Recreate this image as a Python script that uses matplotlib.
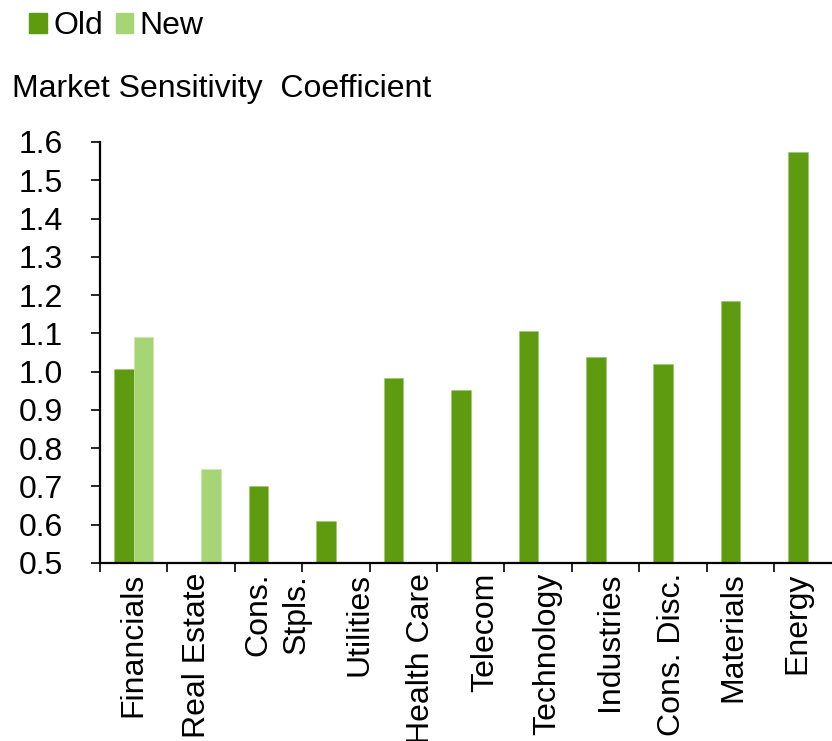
import numpy as np
import matplotlib
matplotlib.use("Agg")
import matplotlib.pyplot as plt
from matplotlib.patches import Patch

# data
sectors = ["Financials", "Real Estate", "Cons.\nStpls.", "Utilities", "Health Care",
           "Telecom", "Technology", "Industries", "Cons. Disc.", "Materials", "Energy"]
old = [1.007, np.nan, 0.70, 0.61, 0.984, 0.952, 1.106, 1.039, 1.02, 1.184, 1.574]
new = [1.09, 0.746, np.nan, np.nan, np.nan, np.nan, np.nan, np.nan, np.nan, np.nan, np.nan]
yticks = [0.5, 0.6, 0.7, 0.8, 0.9, 1.0, 1.1, 1.2, 1.3, 1.4, 1.5, 1.6]

old_color = "#5E9B10"
new_color = "#A6D575"

plt.rcParams["font.family"] = ["Liberation Sans", "DejaVu Sans"]
plt.rcParams["font.size"] = 23

fig = plt.figure(figsize=(8.32, 7.41), dpi=100)
# axes runs past the right edge of the figure, like the original
ax = fig.add_axes([100 / 832, 1 - 563 / 741, 741.4 / 832, (563 - 142) / 741])

x = np.arange(len(sectors))
w = 0.29
ax.bar(x - w / 2, old, w, color=old_color, edgecolor="#9CC76A", linewidth=0.4)
ax.bar(x + w / 2, new, w, color=new_color, edgecolor="#C8E6A8", linewidth=0.4)

ax.set_xlim(-0.5, len(sectors) - 0.5)
ax.set_ylim(0.5, 1.6)
ax.set_yticks(yticks)
ax.set_yticklabels([f"{v:.1f}" for v in yticks])

# tick marks on the category borders, labels slightly shifted like the source
ax.set_xticks(np.arange(len(sectors) + 1) - 0.5)
ax.set_xticklabels([])
label_pos = [0.0, 0.94, 2.13, 3.35, 4.27, 5.21, 6.13, 7.06, 7.98, 8.89, 9.85]
ax.set_xticks(label_pos, minor=True)
ax.set_xticklabels(sectors, minor=True, rotation=90, va="top", ha="center",
                   linespacing=1.35)
ax.tick_params(axis="x", which="minor", length=0, pad=7)
ax.tick_params(axis="x", which="major", direction="out", length=6.5, width=1.2)
ax.tick_params(axis="y", direction="out", length=6.5, width=1.2, pad=20)

for s in ["top", "right"]:
    ax.spines[s].set_visible(False)
for s in ["left", "bottom"]:
    ax.spines[s].set_linewidth(1.6)

# legend and title
handles = [Patch(color=old_color, label="Old"), Patch(color=new_color, label="New")]
fig.legend(handles=handles, loc="upper left", bbox_to_anchor=(7 / 832, 1 + 11 / 741),
           ncol=2, frameon=False, handlelength=0.55, handleheight=0.62,
           handletextpad=0.2, columnspacing=0.4, borderpad=0.2, fontsize=23)
fig.text(12 / 832, 1 - 89 / 741, "Market Sensitivity  Coefficient", va="center",
         ha="left", fontsize=23)

fig.savefig("out.png", dpi=100)
